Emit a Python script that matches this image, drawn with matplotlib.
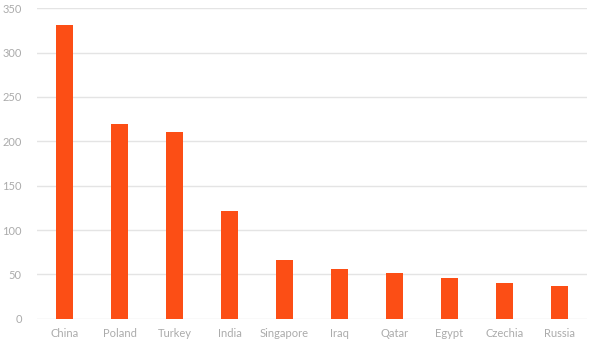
import matplotlib
matplotlib.use('Agg')
import matplotlib.pyplot as plt

plt.rcParams['font.family'] = ['Lato', 'DejaVu Sans']

# 국가별 값
countries = ['China', 'Poland', 'Turkey', 'India', 'Singapore',
             'Iraq', 'Qatar', 'Egypt', 'Czechia', 'Russia']
values = [331, 220, 210, 121, 66, 56, 51, 45.5, 40, 37]
yticks = [0, 50, 100, 150, 200, 250, 300, 350]

bar_color = '#FC4E15'
grid_color = '#E4E4E4'
text_color = '#ABABAB'

fig = plt.figure(figsize=(6.01, 3.47), dpi=100)
ax = fig.add_axes([37 / 601, 1 - 318.7 / 347, 550 / 601, (318.7 - 8.3) / 347])

x = range(len(countries))
ax.bar(x, values, width=0.31, color=bar_color, zorder=3)

ax.set_xlim(-0.5, len(countries) - 0.5)
ax.set_ylim(0, 350)
ax.set_yticks(yticks)
ax.set_xticks(list(x))
ax.set_xticklabels(countries)

ax.grid(axis='y', color=grid_color, linewidth=1, zorder=0)
for s in ax.spines.values():
    s.set_visible(False)
ax.tick_params(axis='both', length=0, colors=text_color, labelsize=8)
ax.tick_params(axis='y', pad=11)
ax.tick_params(axis='x', pad=7)

fig.savefig('out.png', dpi=100)
